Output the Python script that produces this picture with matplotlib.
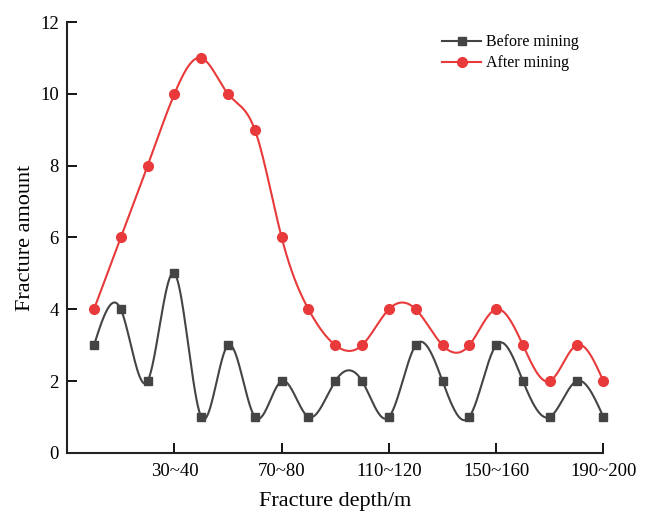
import numpy as np
import matplotlib

matplotlib.use("Agg")
import matplotlib.pyplot as plt

# data (20 depth bins, 0~10 ... 190~200 m)
depth_bins = ["%d~%d" % (10 * i, 10 * i + 10) for i in range(20)]
before_mining = [3, 4, 2, 5, 1, 3, 1, 2, 1, 2, 2, 1, 3, 2, 1, 3, 2, 1, 2, 1]
after_mining = [4, 6, 8, 10, 11, 10, 9, 6, 4, 3, 3, 4, 4, 3, 3, 4, 3, 2, 3, 2]
shown_ticks = [3, 7, 11, 15, 19]
y_ticks = [0, 2, 4, 6, 8, 10, 12]

GRAY = "#444444"
RED = "#e83a3a"


def natural_spline(x, y, n=40):
    """Natural cubic spline through the points, sampled densely for drawing."""
    x = np.asarray(x, dtype=float)
    y = np.asarray(y, dtype=float)
    m = len(x)
    h = np.diff(x)
    A = np.zeros((m, m))
    b = np.zeros(m)
    A[0, 0] = A[-1, -1] = 1.0
    for i in range(1, m - 1):
        A[i, i - 1] = h[i - 1]
        A[i, i] = 2 * (h[i - 1] + h[i])
        A[i, i + 1] = h[i]
        b[i] = 6 * ((y[i + 1] - y[i]) / h[i] - (y[i] - y[i - 1]) / h[i - 1])
    M = np.linalg.solve(A, b)
    xs, ys = [], []
    for i in range(m - 1):
        t = np.linspace(x[i], x[i + 1], n, endpoint=(i == m - 2))
        a = x[i + 1] - t
        c = t - x[i]
        s = (M[i] * a ** 3 + M[i + 1] * c ** 3) / (6 * h[i]) \
            + (y[i] / h[i] - M[i] * h[i] / 6) * a \
            + (y[i + 1] / h[i] - M[i + 1] * h[i] / 6) * c
        xs.append(t)
        ys.append(s)
    return np.concatenate(xs), np.concatenate(ys)


plt.rcParams["font.family"] = ["Liberation Serif", "DejaVu Serif"]

fig = plt.figure(figsize=(6.46, 5.14), dpi=100)
ax = fig.add_axes([0.104, 0.119, 0.830, 0.838])

x = np.arange(len(depth_bins))
for vals, color, marker, ms, label in [
    (before_mining, GRAY, "s", 6.3, "Before mining"),
    (after_mining, RED, "o", 7, "After mining"),
]:
    sx, sy = natural_spline(x, vals)
    ax.plot(sx, sy, color=color, lw=1.5, clip_on=False, zorder=2)
    ax.plot(x, vals, linestyle="none", marker=marker, ms=ms, color=color,
            clip_on=False, zorder=3)
    ax.plot([], [], color=color, lw=1.5, marker=marker, ms=ms, label=label)

ax.set_xlim(-1, 19)
ax.set_ylim(0, 12)
ax.set_xticks(shown_ticks)
ax.set_xticklabels([depth_bins[i] for i in shown_ticks])
ax.set_yticks(y_ticks)
ax.tick_params(direction="in", length=7, width=1.3, labelsize=13.5)
ax.tick_params(axis="x", pad=7)
ax.tick_params(axis="y", pad=6)
for side in ("top", "right"):
    ax.spines[side].set_visible(False)
for side in ("left", "bottom"):
    ax.spines[side].set_linewidth(1.5)
    ax.spines[side].set_color("#222222")

ax.set_xlabel("Fracture depth/m", fontsize=16, labelpad=9)
ax.set_ylabel("Fracture amount", fontsize=16, labelpad=4)
ax.legend(loc="upper right", bbox_to_anchor=(0.98, 1.005), frameon=False,
          fontsize=11.5, handlelength=2.4, handletextpad=0.3, labelspacing=0.3)

fig.savefig("out.png", dpi=100, facecolor="white")
